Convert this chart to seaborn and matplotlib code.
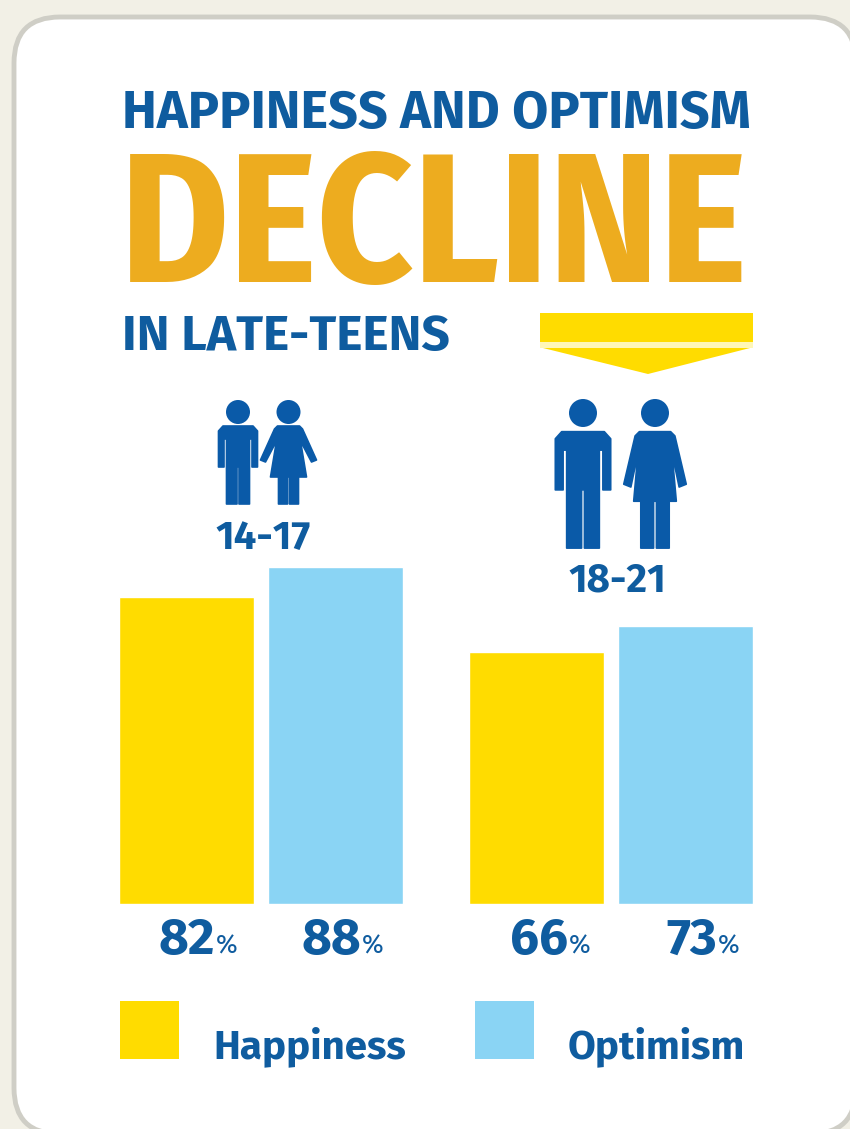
import matplotlib
matplotlib.use('Agg')
import matplotlib.pyplot as plt
from matplotlib.patches import Circle, FancyBboxPatch, Polygon, Rectangle
import pandas as pd
import seaborn as sns

W, H = 850, 1129

age_groups = ['14-17', '18-21']
measures = ['Happiness', 'Optimism']
happiness = [82, 66]
optimism = [88, 73]
# bar heights as drawn in the picture, they are not quite in scale with the printed %
happiness_drawn = [82, 67.4]
optimism_drawn = [90, 74.3]

BLUE = '#0f5c9f'
ICON = '#0a5aa8'
GOLD = '#edac1f'
YELLOW = '#ffdc00'
SKY = '#8ad4f4'
NARROW = ['Fira Sans Condensed', 'Roboto Condensed', 'DejaVu Sans']
WIDE = ['Fira Sans', 'Roboto', 'DejaVu Sans']

sns.set_theme(style='white')
plt.rcParams['font.family'] = WIDE

fig = plt.figure(figsize=(W / 100, H / 100), dpi=100, facecolor='#f2f0e6')

# overlay in pixel coordinates for the card, the title and the icons
bg = fig.add_axes([0, 0, 1, 1])
bg.set_xlim(0, W)
bg.set_ylim(H, 0)
bg.axis('off')
bg.add_patch(FancyBboxPatch((14, 17), 842, 1117, boxstyle='round,pad=0,rounding_size=46',
                            fc='white', ec='#cfcec6', lw=3.5))


def put(x, y, s, size, color=BLUE, ha='left', weight='bold', family=WIDE):
    return bg.text(x, y, s, fontsize=size, color=color, ha=ha, va='baseline', fontweight=weight,
                   family=family)


put(122, 128, 'HAPPINESS AND OPTIMISM', 37.7)
put(120, 282, 'DECLINE', 133, color=GOLD, family=NARROW)
put(122, 350, 'IN LATE-TEENS', 35.8)
put(263, 549, age_groups[0], 29, ha='center')
put(617, 592, age_groups[1], 29, ha='center')

# arrow under the title
bg.add_patch(Rectangle((540, 313), 213, 29, fc=YELLOW, ec='none'))
bg.add_patch(Rectangle((540, 342), 213, 6, fc='#fff7b8', ec='none'))
bg.add_patch(Polygon([(543, 348), (750, 348), (648, 374)], fc=YELLOW, ec='none'))


def figure_part(cx, head_y, r, top, s, pts):
    bg.add_patch(Circle((cx, head_y), r, fc=ICON, ec='none'))
    bg.add_patch(Polygon([(cx + a * s, top + b * s) for a, b in pts], fc=ICON, ec=ICON, lw=1.2,
                         joinstyle='round'))


def man(cx, head_y, r, top, s, sh, arm_end):
    figure_part(cx, head_y, r, top, s, [
        (-19.5, sh + 5), (-15, sh), (15, sh), (19.5, sh + 5), (19.5, arm_end), (14, arm_end),
        (14, sh + 13), (11.5, sh + 13), (11.5, 105), (1, 105), (1, arm_end), (-1, arm_end),
        (-1, 105), (-11.5, 105), (-11.5, sh + 13), (-14, sh + 13), (-14, arm_end),
        (-19.5, arm_end)])


def woman(cx, head_y, r, top, s, sh, arm_end, hem, arm, skirt):
    figure_part(cx, head_y, r, top, s, [
        (-11, sh), (11, sh), (14, sh + 3), (arm, arm_end - 2), (arm - 5, arm_end), (12, sh + 15),
        (skirt, hem), (10, hem), (10, 105), (1, 105), (1, hem), (-1, hem), (-1, 105), (-10, 105),
        (-10, hem), (-skirt, hem), (-12, sh + 15), (-arm + 5, arm_end), (-arm, arm_end - 2),
        (-14, sh + 3)])


man(238, 412, 12, 399, 1, 27, 68)
woman(288.5, 412, 12, 399, 1, 27, 63, 78, 28, 18)
man(583, 413, 14, 399, 1.42, 23, 64)
woman(655, 413, 14, 399, 1.42, 23, 62, 72, 22, 15)

# bars, axes placed so the baseline sits at y=904 px
df = pd.DataFrame({
    'age': age_groups * 2,
    'measure': [measures[0]] * 2 + [measures[1]] * 2,
    'pct': happiness_drawn + optimism_drawn,
})
left, right, top, bottom = 100, 790, 530, 904
ax = fig.add_axes([left / W, 1 - bottom / H, (right - left) / W, (bottom - top) / H])
ax.patch.set_alpha(0)
sns.barplot(data=df, x='age', y='pct', hue='measure', palette=[YELLOW, SKY], width=0.852,
            gap=0.1, saturation=1, legend=False, errorbar=None, ax=ax)
ax.set_xlim((left - 261) / 350, (right - 261) / 350)
ax.set_ylim(0, (bottom - top) / 3.74)
ax.axis('off')

# percentage labels under the bars
label_x = [[215, 568], [361, 717]]
for xs, vals in zip(label_x, [happiness, optimism]):
    for x, v in zip(xs, vals):
        put(x, 954, str(v), 37, ha='right')
        put(x + 1, 954, '%', 19, weight='normal')

# legend
bg.add_patch(Rectangle((120, 1001), 59, 58, fc=YELLOW, ec='none'))
bg.add_patch(Rectangle((475, 1001), 59, 58, fc=SKY, ec='none'))
put(213, 1058, measures[0], 29)
put(568, 1058, measures[1], 29)

fig.savefig('out.png', dpi=100, facecolor=fig.get_facecolor())
